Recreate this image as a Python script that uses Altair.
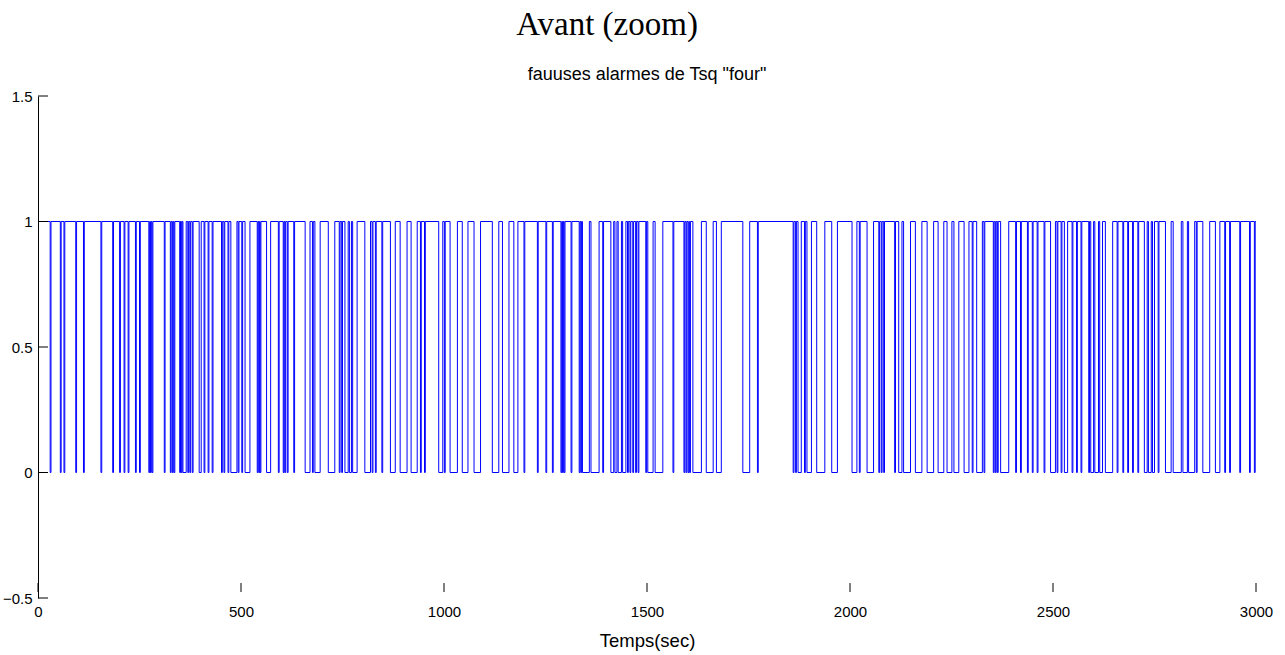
import altair as alt
import pandas as pd

# Alarm signal: 1 by default, dips to 0 between dip_start[i] and dip_end[i] (seconds)
dip_start = [30, 55, 64, 93, 112, 155, 184, 201, 212, 222, 240,
             250, 273, 277, 281, 311, 326, 331, 335, 349, 353, 357, 369, 374, 380, 397, 409, 419, 429, 452, 458, 468, 475, 493,
             502, 510, 540, 544, 547, 563, 592, 604, 608, 614, 630, 658, 676, 682, 715, 742, 748,
             756, 767, 775, 805, 823, 831, 847, 868, 892, 919, 942, 952, 987, 1001,
             1015, 1045, 1074, 1119, 1144, 1172, 1197, 1230,
             1251, 1267, 1288, 1292, 1296, 1313, 1333, 1337, 1341, 1362, 1391, 1411, 1421, 1429, 1440, 1452, 1458, 1465, 1472, 1478, 1497,
             1502, 1520, 1564, 1591, 1596, 1601, 1605, 1613, 1646, 1671, 1736, 1772,
             1860, 1866, 1872, 1888, 1894, 1918, 1955,
             2005, 2023, 2042, 2071, 2077, 2083, 2110, 2120, 2132, 2161, 2190, 2217, 2239,
             2256, 2281, 2301, 2312, 2330, 2353, 2358, 2363, 2371, 2408, 2420, 2437, 2449, 2461, 2478, 2494,
             2510, 2520, 2528, 2547, 2558, 2569, 2588, 2593, 2603, 2615, 2629, 2658, 2672, 2684, 2696, 2709, 2725, 2735, 2745,
             2759, 2777, 2796, 2820, 2834, 2853, 2869, 2900, 2923, 2935, 2960, 2984, 2996]
dip_end = [32, 57, 66, 95, 114, 157, 186, 203, 214, 224, 242,
           252, 275, 279, 283, 313, 328, 333, 337, 351, 355, 365, 371, 376, 382, 402, 411, 421, 431, 454, 460, 470, 490, 495,
           504, 522, 542, 546, 549, 573, 594, 606, 610, 616, 632, 670, 678, 695, 731, 744, 750,
           764, 772, 786, 819, 825, 833, 849, 880, 909, 934, 944, 954, 997, 1003,
           1033, 1059, 1090, 1135, 1160, 1182, 1199, 1232,
           1253, 1269, 1290, 1294, 1298, 1315, 1335, 1339, 1358, 1382, 1393, 1418, 1426, 1437, 1448, 1454, 1460, 1467, 1474, 1480, 1499,
           1515, 1539, 1566, 1593, 1598, 1603, 1607, 1634, 1663, 1683, 1753, 1774,
           1862, 1868, 1880, 1890, 1905, 1938, 1969,
           2017, 2025, 2058, 2073, 2079, 2085, 2112, 2128, 2149, 2177, 2206, 2231, 2251,
           2268, 2293, 2303, 2326, 2332, 2355, 2360, 2365, 2391, 2410, 2422, 2439, 2451, 2463, 2480, 2506,
           2512, 2522, 2536, 2549, 2560, 2571, 2590, 2600, 2612, 2622, 2647, 2660, 2674, 2686, 2698, 2711, 2732, 2742, 2750,
           2761, 2791, 2816, 2831, 2849, 2855, 2886, 2911, 2925, 2937, 2962, 2986, 2998]

x_ticks = [0, 500, 1000, 1500, 2000, 2500, 3000]
y_ticks = [-0.5, 0, 0.5, 1, 1.5]

rows = [{"t": 0, "v": 1, "i": 0}]
for s, e in zip(dip_start, dip_end):
    rows.append({"t": s, "v": 0, "i": len(rows)})
    rows.append({"t": e, "v": 1, "i": len(rows)})
rows.append({"t": 3000, "v": 1, "i": len(rows)})
df = pd.DataFrame(rows)

W, H = 1218, 502
FONT = "Liberation Sans"

xs = alt.Scale(domain=[0, 3000], nice=False, zero=False)
ys = alt.Scale(domain=[-0.5, 1.5], nice=False, zero=False)

line = alt.Chart(df).mark_line(
    interpolate="step-after", color="#0000FF", strokeWidth=1, clip=True
).encode(
    x=alt.X("t:Q", scale=xs, axis=alt.Axis(
        values=x_ticks, format="d", title="Temps(sec)", domain=False, ticks=False, grid=False,
        labelFont=FONT, labelFontSize=15, labelColor="black", labelPadding=6,
        titleFont=FONT, titleFontSize=18.5, titleFontWeight="normal", titleColor="black",
        titlePadding=12, labelFlush=False)),
    y=alt.Y("v:Q", scale=ys, axis=alt.Axis(
        values=y_ticks, format="~g", title=None, domain=True, domainColor="black", ticks=False, grid=False,
        labelFont=FONT, labelFontSize=15, labelColor="black", labelPadding=6,
        labelFlush=False)),
    order="i:Q",
)

ytick_df = pd.DataFrame({"y": y_ticks})
ytick_marks = alt.Chart(ytick_df).mark_rule(color="black", strokeWidth=1).encode(
    y=alt.Y("y:Q", scale=ys),
    x=alt.value(0), x2=alt.value(10),
)

xtick_df = pd.DataFrame({"x": x_ticks})
xtick_marks = alt.Chart(xtick_df).mark_rule(color="black", strokeWidth=1).encode(
    x=alt.X("x:Q", scale=xs),
    y=alt.value(H - 6), y2=alt.value(H - 15),
)

main_title = alt.Chart(pd.DataFrame({"txt": ["Avant (zoom)"]})).mark_text(
    font="Liberation Serif", fontSize=33, color="black", align="center", baseline="middle"
).encode(text="txt:N", x=alt.value(569), y=alt.value(-71))

sub_title = alt.Chart(pd.DataFrame({"txt": ['fauuses alarmes de Tsq "four"']})).mark_text(
    font=FONT, fontSize=18, color="black", align="center", baseline="middle"
).encode(text="txt:N", x=alt.value(W / 2), y=alt.value(-21))

chart = alt.layer(line, ytick_marks, xtick_marks, main_title, sub_title).properties(
    width=W, height=H,
    background="white",
    autosize=alt.AutoSizeParams(type="none"),
    padding={"left": 38, "top": 96, "right": 29, "bottom": 57},
).configure_view(strokeWidth=0, stroke="transparent")

chart.save("out.html", embed_options={"renderer": "svg", "actions": False})
